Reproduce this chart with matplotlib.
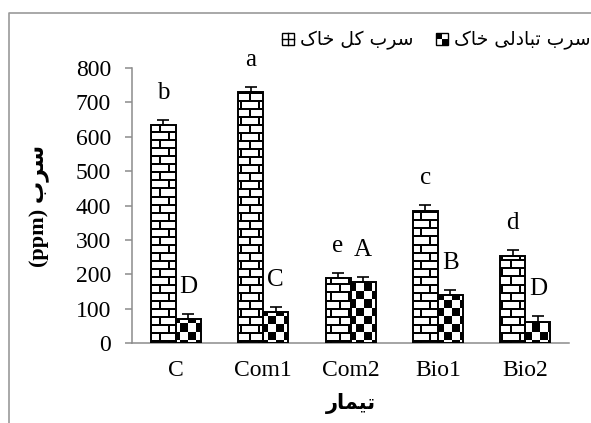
import numpy as np
import matplotlib

matplotlib.use("Agg")

import matplotlib.pyplot as plt
from matplotlib.patches import Patch, Rectangle
from matplotlib.lines import Line2D
from matplotlib.legend_handler import HandlerBase

# =========================
# data
# =========================
treatments = ["C", "Com1", "Com2", "Bio1", "Bio2"]

total_pb = [635, 730, 190, 385, 254]      # total soil lead
total_err = [15, 15, 15, 16, 16]
total_letters = ["b", "a", "e", "c", "d"]

exch_pb = [70, 90, 178, 139, 62]          # exchangeable soil lead
exch_err = [14, 14, 15, 15, 16]
exch_letters = ["D", "C", "A", "B", "D"]

yticks = [0, 100, 200, 300, 400, 500, 600, 700, 800]

# =========================
# simple persian shaping (matplotlib has no RTL / joining support)
# (isolated, final, initial, medial)
# =========================
FORMS = {
    "س": (0xFEB1, 0xFEB2, 0xFEB3, 0xFEB4),
    "ب": (0xFE8F, 0xFE90, 0xFE91, 0xFE92),
    "ت": (0xFE95, 0xFE96, 0xFE97, 0xFE98),
    "ل": (0xFEDD, 0xFEDE, 0xFEDF, 0xFEE0),
    "ی": (0xFBFC, 0xFBFD, 0xFBFE, 0xFBFF),
    "خ": (0xFEA5, 0xFEA6, 0xFEA7, 0xFEA8),
    "ک": (0xFB8E, 0xFB8F, 0xFB90, 0xFB91),
    "م": (0xFEE1, 0xFEE2, 0xFEE3, 0xFEE4),
    "ا": (0xFE8D, 0xFE8E),
    "ر": (0xFEAD, 0xFEAE),
    "د": (0xFEA9, 0xFEAA),
}


def shape(text):
    out = []
    for i, ch in enumerate(text):
        if ch not in FORMS:
            out.append(ch)
            continue
        prev = text[i - 1] if i > 0 else ""
        nxt = text[i + 1] if i + 1 < len(text) else ""
        forms = FORMS[ch]
        join_prev = prev in FORMS and len(FORMS[prev]) == 4
        join_next = len(forms) == 4 and nxt in FORMS
        if join_prev and join_next:
            code = forms[3]
        elif join_prev:
            code = forms[1]
        elif join_next:
            code = forms[2]
        else:
            code = forms[0]
        out.append(chr(code))
    return "".join(reversed(out))


label_total = shape("سرب کل خاک")
label_exch = shape("سرب تبادلی خاک")
ylabel = "(ppm) " + shape("سرب")
xlabel = shape("تیمار")

MIXED = ["Liberation Serif", "DejaVu Sans"]

# =========================
# figure
# =========================
fig = plt.figure(figsize=(5.91, 4.23), dpi=100)
ax_pos = [0.2234, 0.1891, 0.7394, 0.6501]
ax = fig.add_axes(ax_pos)

# outer chart frame (only left and top edges are inside the picture)
fig.add_artist(Line2D([0.0152, 0.0152, 1.01], [-0.01, 0.969, 0.969],
                      transform=fig.transFigure, color="#9a9a9a", lw=1.2))

x = np.arange(len(treatments))
w = 0.286

bars_total = ax.bar(x - w / 2, total_pb, w, facecolor="none",
                    edgecolor="black", lw=1.4, zorder=4)
bars_exch = ax.bar(x + w / 2, exch_pb, w, facecolor="none",
                   edgecolor="black", lw=1.4, zorder=4)

# brick / checker textures at screen resolution, clipped to each bar
H = int(round(ax_pos[3] * 423))
W = int(round(ax_pos[2] * 591))
yy, xx = np.mgrid[0:H, 0:W]
row = yy // 8
brick = np.where((yy % 8 < 2) | ((xx + 9 * (row % 2)) % 18 < 2), 0, 1)
checker = ((yy // 8) + (xx // 8)) % 2

for bars, tex in [(bars_total, brick), (bars_exch, checker)]:
    for b in bars:
        im = ax.imshow(tex, cmap="gray", vmin=0, vmax=1, extent=(0, 1, 0, 1),
                       transform=ax.transAxes, interpolation="nearest",
                       aspect="auto", zorder=3)
        im.set_clip_path(b)

ax.errorbar(x - w / 2, total_pb, yerr=[np.zeros(len(x)), total_err], fmt="none",
            ecolor="black", elinewidth=1.2, capsize=4.5, capthick=1.2, zorder=5)
ax.errorbar(x + w / 2, exch_pb, yerr=[np.zeros(len(x)), exch_err], fmt="none",
            ecolor="black", elinewidth=1.2, capsize=4.5, capthick=1.2, zorder=5)

# significance letters
for xs, vals, errs, letters in [(x - w / 2, total_pb, total_err, total_letters),
                                (x + w / 2, exch_pb, exch_err, exch_letters)]:
    for xi, v, e, lt in zip(xs, vals, errs, letters):
        ax.annotate(lt, (xi, v + e), xytext=(0, 15), textcoords="offset points",
                    ha="center", va="baseline", fontsize=18,
                    family="Liberation Serif")

ax.set_xlim(-0.5, len(x) - 0.5)
ax.set_ylim(0, 800)
ax.set_yticks(yticks)
ax.set_xticks(x)
ax.set_xticklabels(treatments)

for s in ["top", "right"]:
    ax.spines[s].set_visible(False)
for s in ["left", "bottom"]:
    ax.spines[s].set_color("#8c8c8c")
    ax.spines[s].set_linewidth(1.1)

ax.tick_params(axis="y", direction="out", length=5, width=1.1, color="#8c8c8c",
               pad=10, labelsize=17)
ax.tick_params(axis="x", length=0, pad=12, labelsize=17)
for lbl in ax.get_xticklabels() + ax.get_yticklabels():
    lbl.set_family("Liberation Serif")

ax.set_ylabel(ylabel, fontsize=16, fontweight="bold", family=MIXED)
ax.yaxis.set_label_coords(-0.188, 0.5)
ax.set_xlabel(xlabel, fontsize=15, fontweight="bold", family=MIXED)
ax.xaxis.set_label_coords(0.5, -0.18)


# =========================
# legend
# =========================
class SwatchHandler(HandlerBase):
    def __init__(self, is_checker):
        super().__init__()
        self.is_checker = is_checker

    def create_artists(self, legend, orig_handle, xdescent, ydescent,
                       width, height, fontsize, trans):
        x0, y0 = -xdescent, -ydescent
        arts = [Rectangle((x0, y0), width, height, facecolor="white",
                          lw=0, transform=trans)]
        if self.is_checker:
            for dx, dy in [(0, 0.5), (0.5, 0)]:
                arts.append(Rectangle((x0 + dx * width, y0 + dy * height),
                                      width / 2, height / 2, facecolor="black",
                                      lw=0, transform=trans))
        else:
            arts.append(Line2D([x0, x0 + width], [y0 + height / 2] * 2,
                               color="black", lw=1.0, transform=trans))
            arts.append(Line2D([x0 + width / 2] * 2, [y0, y0 + height],
                               color="black", lw=1.0, transform=trans))
        arts.append(Rectangle((x0, y0), width, height, facecolor="none",
                              edgecolor="black", lw=1.0, transform=trans))
        return arts


h_total = Patch(label=label_total)
h_exch = Patch(label=label_exch)
fig.legend(handles=[h_total, h_exch], ncol=2, frameon=False,
           loc="center", bbox_to_anchor=(0.738, 0.905),
           bbox_transform=fig.transFigure,
           handler_map={h_total: SwatchHandler(False), h_exch: SwatchHandler(True)},
           handlelength=0.65, handleheight=0.65, handletextpad=0.3,
           columnspacing=1.2, prop={"family": "DejaVu Sans", "size": 13.5})

plt.savefig("out.png", dpi=100)
